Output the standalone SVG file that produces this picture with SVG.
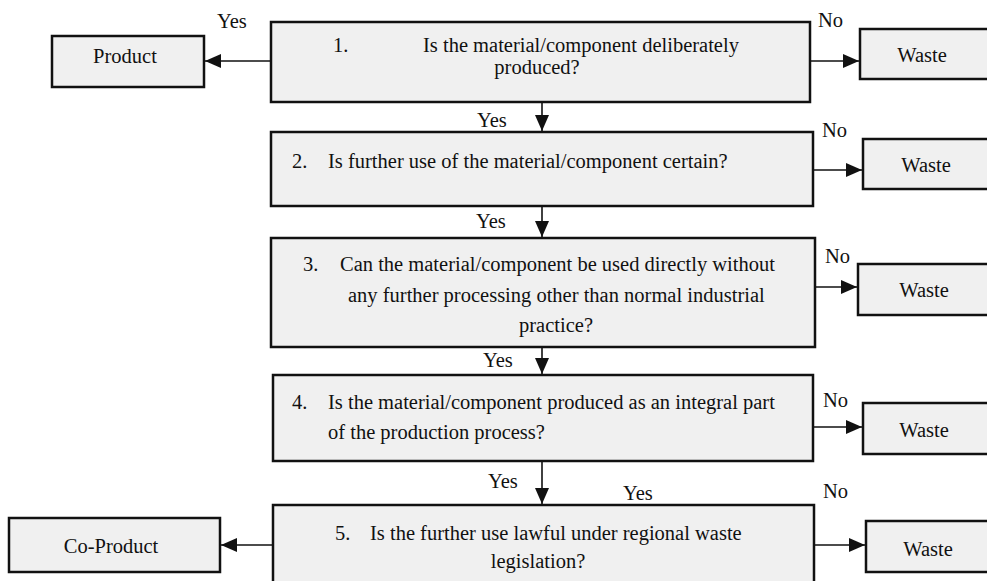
<svg xmlns="http://www.w3.org/2000/svg" width="987" height="581" viewBox="0 0 987 581">
<style>
.box{fill:#f0f0f0;stroke:#111;stroke-width:2.5}
.t{font-family:"Liberation Serif","Times New Roman",serif;font-size:20.5px;fill:#111}
.m{text-anchor:middle}
.c{stroke:#111;stroke-width:1.6;fill:none;marker-end:url(#ah)}
</style>
<defs>
<marker id="ah" markerUnits="userSpaceOnUse" markerWidth="16" markerHeight="14" refX="16" refY="7" orient="auto">
<path d="M0,0 L16,7 L0,14 z" fill="#111"/>
</marker>
</defs>
<rect width="987" height="581" fill="#fff"/>
<g id="connectors">
<line class="c" x1="271" y1="61" x2="205" y2="61"/>
<line class="c" x1="810" y1="61" x2="859" y2="61"/>
<line class="c" x1="542" y1="102" x2="542" y2="131"/>
<line class="c" x1="813" y1="170" x2="862" y2="170"/>
<line class="c" x1="542" y1="206" x2="542" y2="237"/>
<line class="c" x1="815" y1="287" x2="857" y2="287"/>
<line class="c" x1="542" y1="347" x2="542" y2="374"/>
<line class="c" x1="813" y1="427" x2="862" y2="427"/>
<line class="c" x1="542" y1="462" x2="542" y2="504"/>
<line class="c" x1="273" y1="545" x2="221" y2="545"/>
<line class="c" x1="814" y1="545" x2="865" y2="545"/>
<text class="t" x="217" y="28">Yes</text>
<text class="t" x="818" y="27">No</text>
<text class="t" x="477" y="127">Yes</text>
<text class="t" x="822" y="137">No</text>
<text class="t" x="476" y="228">Yes</text>
<text class="t" x="825" y="263">No</text>
<text class="t" x="483" y="367">Yes</text>
<text class="t" x="823" y="407">No</text>
<text class="t" x="488" y="488">Yes</text>
<text class="t" x="623" y="500">Yes</text>
<text class="t" x="823" y="498">No</text>
</g>
<g id="product">
<rect class="box" x="52" y="36" width="152" height="51"/>
<text class="t m" x="125" y="63">Product</text>
</g>
<g id="q1">
<rect class="box" x="271" y="22" width="539" height="80"/>
<text class="t" x="333" y="52">1.</text>
<text class="t" x="423" y="52">Is the material/component deliberately</text>
<text class="t m" x="537" y="74">produced?</text>
</g>
<g id="waste1">
<rect class="box" x="860" y="29" width="140" height="50"/>
<text class="t m" x="922" y="62">Waste</text>
</g>
<g id="q2">
<rect class="box" x="271" y="132" width="542" height="74"/>
<text class="t" x="292" y="168">2.</text>
<text class="t" x="328" y="168">Is further use of the material/component certain?</text>
</g>
<g id="waste2">
<rect class="box" x="863" y="139" width="140" height="50"/>
<text class="t m" x="926" y="172">Waste</text>
</g>
<g id="q3">
<rect class="box" x="271" y="238" width="544" height="109"/>
<text class="t" x="303" y="271">3.</text>
<text class="t" x="340" y="271">Can the material/component be used directly without</text>
<text class="t" x="348" y="302">any further processing other than normal industrial</text>
<text class="t m" x="556" y="332">practice?</text>
</g>
<g id="waste3">
<rect class="box" x="858" y="264" width="140" height="51"/>
<text class="t m" x="924" y="297">Waste</text>
</g>
<g id="q4">
<rect class="box" x="273" y="375" width="540" height="86"/>
<text class="t" x="292" y="409">4.</text>
<text class="t" x="328" y="409">Is the material/component produced as an integral part</text>
<text class="t" x="328" y="439">of the production process?</text>
</g>
<g id="waste4">
<rect class="box" x="863" y="403" width="140" height="51"/>
<text class="t m" x="924" y="437">Waste</text>
</g>
<g id="q5">
<rect class="box" x="273" y="505" width="541" height="90"/>
<text class="t" x="335" y="540">5.</text>
<text class="t" x="370" y="540">Is the further use lawful under regional waste</text>
<text class="t m" x="538" y="568">legislation?</text>
</g>
<g id="waste5">
<rect class="box" x="866" y="521" width="140" height="51"/>
<text class="t m" x="928" y="556">Waste</text>
</g>
<g id="coproduct">
<rect class="box" x="9" y="518" width="211" height="54"/>
<text class="t m" x="111" y="553">Co-Product</text>
</g>
</svg>
